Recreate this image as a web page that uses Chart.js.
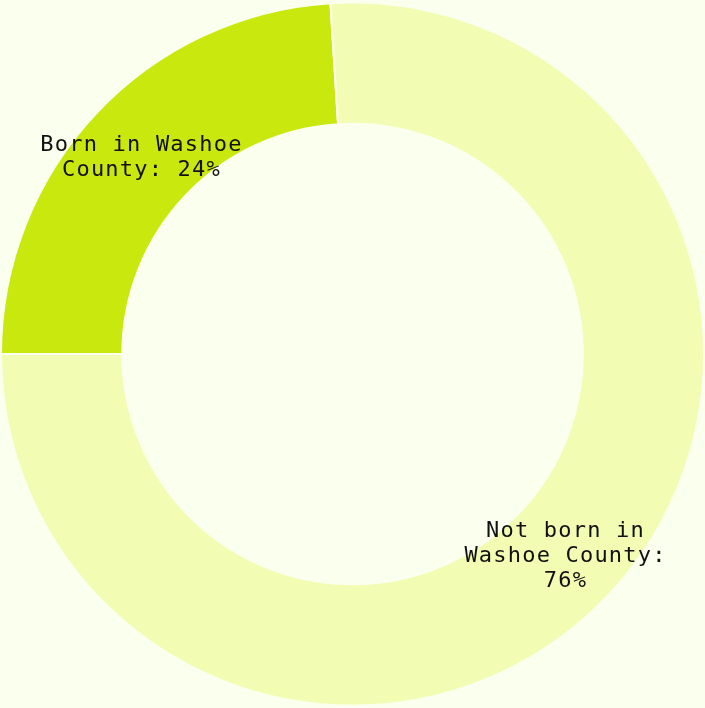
<!DOCTYPE html>
<html>
<head>
<meta charset="utf-8">
<script src="https://cdn.jsdelivr.net/npm/chart.js@4"></script>
<style>
  html, body { margin: 0; padding: 0; background: #fbffee; }
  #wrap { width: 705px; height: 708px; }
</style>
</head>
<body>
<div id="wrap"><canvas id="chart"></canvas></div>
<script>
// slice data
const categories = ["Born in Washoe County", "Not born in Washoe County"];
const shares = [24, 76];
// labels as shown, already wrapped
const sliceLabels = [
    ["Born in Washoe", "County: 24%"],
    ["Not born in", "Washoe County:", "76%"]
];
const sliceColors = ["#c9e80e", "#f2fdb3"];
const bgColor = "#fbffee";

// writes each label in the middle of its slice
const sliceText = {
    id: "sliceText",
    afterDatasetsDraw(chart) {
        const ctx = chart.ctx;
        const meta = chart.getDatasetMeta(0);
        ctx.save();
        ctx.font = "22px 'DejaVu Sans Mono'";
        ctx.letterSpacing = "1.2px";
        ctx.fillStyle = "#111";
        ctx.textAlign = "center";
        ctx.textBaseline = "middle";
        meta.data.forEach(function (arc, i) {
            const p = arc.getCenterPoint();
            const lines = sliceLabels[i];
            const lh = 25;
            const top = p.y + 3 - (lines.length - 1) * lh / 2;
            lines.forEach(function (line, j) {
                ctx.fillText(line, p.x + 1, top + j * lh);
            });
        });
        ctx.restore();
    }
};

new Chart(document.getElementById("chart"), {
    type: "doughnut",
    data: {
        labels: categories,
        datasets: [{
            data: shares,
            backgroundColor: sliceColors,
            borderColor: bgColor,
            borderWidth: 2
        }]
    },
    options: {
        responsive: true,
        maintainAspectRatio: false,
        animation: false,
        rotation: -90,
        cutout: "65.5%",
        layout: { padding: 0 },
        plugins: {
            legend: { display: false },
            tooltip: { enabled: false }
        }
    },
    plugins: [sliceText]
});
</script>
</body>
</html>
